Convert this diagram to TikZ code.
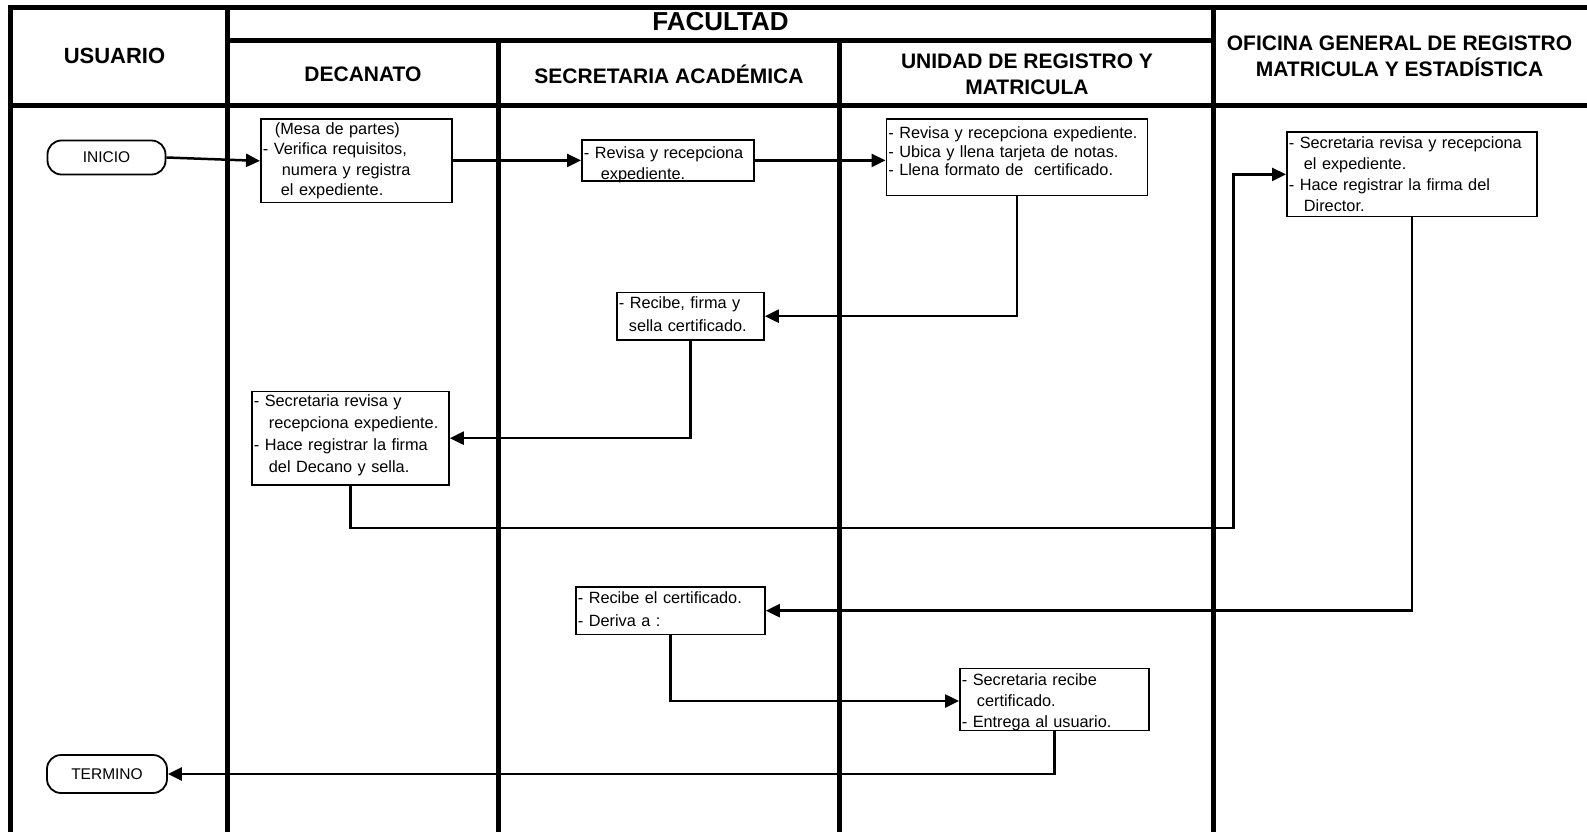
\documentclass[tikz,border=0pt]{standalone}
\usepackage{fontspec}
\setmainfont{Liberation Sans}
\usetikzlibrary{arrows.meta,calc}
\begin{document}
\begin{tikzpicture}[x=1pt,y=-1pt,
  lane/.style={line width=5pt},
  hdr/.style={font=\fontsize{21}{25}\selectfont\bfseries, align=center, inner sep=0pt},
  stepbox/.style={draw, line width=1.8pt, anchor=north west, align=left, inner xsep=2pt, inner ysep=0pt},
  pitch/.style={font=\fontsize{16.3}{#1}\selectfont},
  term/.style={draw, line width=1.8pt, rounded corners=14pt, font=\fontsize{15.5}{18}\selectfont, inner sep=0pt},
  arr/.style={line width=2.5pt, -{Triangle[length=14pt,width=13pt]}},
]
\useasboundingbox (0,0) rectangle (1587,832);
% lanes
\draw[lane] (7.5,8) -- (1587,8);
\draw[lane] (10,8) -- (10,832);
\draw[lane] (227.5,8) -- (227.5,832);
\draw[lane] (1213.5,8) -- (1213.5,832);
\draw[lane] (227.5,40.5) -- (1213.5,40.5);
\draw[lane] (498,40.5) -- (498,832);
\draw[lane] (839.5,40.5) -- (839.5,832);
\draw[lane] (7.5,106) -- (1587,106);
% headers
\node[hdr, font=\fontsize{22}{26}\selectfont\bfseries] (hU) at (114.5,55.5) {USUARIO};
\node[hdr, font=\fontsize{26}{30}\selectfont\bfseries] (hF) at (720.5,22) {FACULTAD};
\node[hdr] (hD) at (363,74) {DECANATO};
\node[hdr] (hS) at (669,74) {SECRETARIA ACADÉMICA};
\node[hdr] (hR) at (1027,74) {UNIDAD DE REGISTRO Y\\[1pt]MATRICULA};
\node[hdr] (hO) at (1399.5,56.5) {OFICINA GENERAL DE REGISTRO\\[1pt]MATRICULA Y ESTADÍSTICA};
% terminals
\node[term, minimum width=118pt, minimum height=34pt] (ini) at (106.5,157.5) {INICIO};
\node[term, minimum width=120pt, minimum height=38pt] (fin) at (107,774) {TERMINO};
% steps
\node[stepbox, pitch=20.5, text width=187pt, text height=15.1pt, text depth=67.9pt] (b1) at (260,118.5)
  {\hspace*{12pt}(Mesa de partes)\\- Verifica requisitos,\\\hspace*{19pt}numera y registra\\\hspace*{18pt}el expediente.};
\node[stepbox, pitch=20.3, text width=168pt, text height=18.4pt, text depth=21.6pt] (b2) at (581,139.5)
  {- Revisa y recepciona\\\hspace*{17pt}expediente.};
\node[stepbox, pitch=18.7, text width=257pt, text height=19.2pt, text depth=56.8pt] (b3) at (885.5,118.5)
  {- Revisa y recepciona expediente.\\- Ubica y llena tarjeta de notas.\\- Llena formato de \ certificado.};
\node[stepbox, pitch=20.9, text width=246pt, text height=16.3pt, text depth=67.7pt] (b4) at (1286,131.5)
  {- Secretaria revisa y recepciona\\\hspace*{15pt}el expediente.\\- Hace registrar la firma del\\\hspace*{15pt}Director.};
\node[stepbox, pitch=23.3, text width=143pt, text height=16.2pt, text depth=31.3pt] (b5) at (616,291.5)
  {- Recibe, firma y\\\hspace*{10pt}sella certificado.};
\node[stepbox, pitch=21.9, text width=193pt, text height=15.4pt, text depth=78.1pt] (b6) at (251,390.5)
  {- Secretaria revisa y\\\hspace*{15pt}recepciona expediente.\\- Hace registrar la firma\\\hspace*{15pt}del Decano y sella.};
\node[stepbox, pitch=23.3, text width=185pt, text height=16.1pt, text depth=31.4pt] (b7) at (575,586)
  {- Recibe el certificado.\\- Deriva a :};
\node[stepbox, pitch=21.2, text width=185pt, text height=16.6pt, text depth=45.4pt] (b8) at (959,667.5)
  {- Secretaria recibe\\\hspace*{15pt}certificado.\\- Entrega al usuario.};
\draw[line width=1.8pt] (b2.south west) -- (b2.south east);
% connectors
\coordinate (c6) at (1233.5,528);
\coordinate (y8) at (0,701);
\draw[arr] (ini.east) -- (b1.west);
\draw[arr] (b1.east |- b2.west) -- (b2.west);
\draw[arr] (b2.east) -- (b3.west |- b2.east);
\draw[arr] (b3.south) |- (b5.east);
\draw[arr] (b5.south) |- (b6.east);
\draw[arr] (b6.south) |- (c6) |- (b4.west);
\draw[arr] (b4.south) |- (b7.east);
\draw[arr] (b7.south) |- (b8.west |- y8);
\draw[arr] (b8.south) |- (fin.east);
\end{tikzpicture}
\end{document}
